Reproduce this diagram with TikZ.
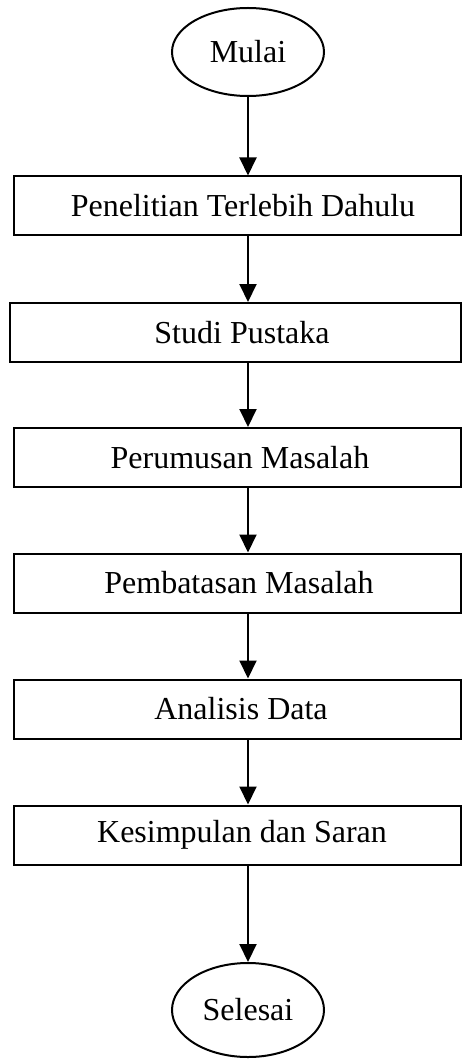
\documentclass[tikz,border=0pt]{standalone}
\usepackage{fontspec}
\setmainfont{Liberation Serif}
\usetikzlibrary{shapes.geometric,arrows.meta}
\begin{document}
\begin{tikzpicture}[x=1pt,y=-1pt,
 every node/.style={font=\fontsize{32}{38}\selectfont},
 term/.style={draw,ellipse,line width=2pt,minimum width=152pt,minimum height=88pt,inner sep=0pt},
 proc/.style={draw,rectangle,line width=2pt,minimum height=59pt,inner sep=0pt},
 lbl/.style={inner sep=0pt},
 arr/.style={line width=2pt,-{Triangle[length=18pt,width=17pt]}}]
\useasboundingbox (0,0) rectangle (466,1059);
\node[term] (start) at (248,52) {Mulai};
\node[proc,minimum width=447pt] (b1) at (237.5,206) {};
\node[lbl] (t1) at (243,206) {Penelitian Terlebih Dahulu};
\node[proc,minimum width=451pt] (b2) at (235.5,332.5) {};
\node[lbl] (t2) at (242,332.5) {Studi Pustaka};
\node[proc,minimum width=447pt] (b3) at (237.5,457.5) {};
\node[lbl] (t3) at (240,457.5) {Perumusan Masalah};
\node[proc,minimum width=447pt] (b4) at (237.5,583) {};
\node[lbl] (t4) at (239,583) {Pembatasan Masalah};
\node[proc,minimum width=447pt] (b5) at (237.5,709) {};
\node[lbl] (t5) at (241,709) {Analisis Data};
\node[proc,minimum width=447pt] (b6) at (237.5,835) {};
\node[lbl] (t6) at (242,835) {Kesimpulan dan Saran};
\node[term,minimum height=94pt] (end) at (248,1010) {Selesai};
\draw[arr] (start.south) -- (start |- b1.north);
\draw[arr] (b1.south -| start) -- (b2.north -| start);
\draw[arr] (b2.south -| start) -- (b3.north -| start);
\draw[arr] (b3.south -| start) -- (b4.north -| start);
\draw[arr] (b4.south -| start) -- (b5.north -| start);
\draw[arr] (b5.south -| start) -- (b6.north -| start);
\draw[arr] (b6.south -| start) -- (end.north);
\end{tikzpicture}
\end{document}
